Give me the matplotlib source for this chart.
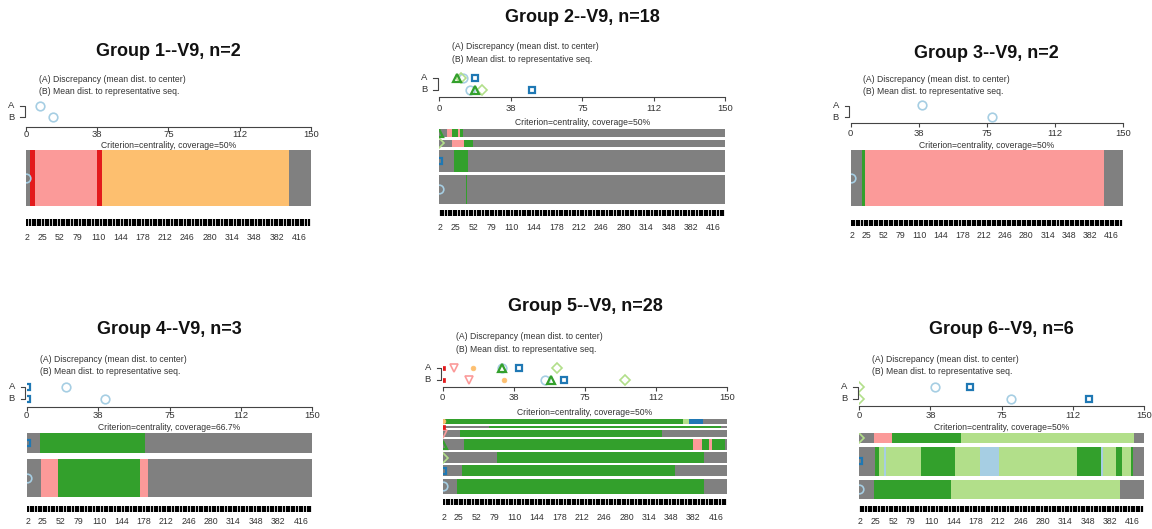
import matplotlib
matplotlib.use("Agg")
import matplotlib.pyplot as plt
from matplotlib.transforms import blended_transform_factory

plt.rcParams['font.family'] = ['Liberation Sans', 'DejaVu Sans']

# ---------------------------------------------------------------- data
SEQ_LEN = 433                     # number of time columns in each sequence
dist_ticks = [0, 37.5, 75, 112.5, 150]
dist_tick_labels = ["0", "38", "75", "112", "150"]
time_tick_values = [2, 25, 52, 79, 110, 144, 178, 212, 246, 280, 314, 348, 382, 416]

titles = ["Group 1--V9, n=2", "Group 2--V9, n=18", "Group 3--V9, n=2",
          "Group 4--V9, n=3", "Group 5--V9, n=28", "Group 6--V9, n=6"]
criteria = ["Criterion=centrality, coverage=50%", "Criterion=centrality, coverage=50%",
            "Criterion=centrality, coverage=50%", "Criterion=centrality, coverage=66.7%",
            "Criterion=centrality, coverage=50%", "Criterion=centrality, coverage=50%"]
legend_lines = ["(A) Discrepancy (mean dist. to center)",
                "(B) Mean dist. to representative seq."]

# representative sequences, listed bottom to top; each run is (state, end column)
g1_discrepancy = [7.4]
g1_mean_dist = [14.4]
g1_weights = [1]
g1_sequences = [[("NA", 6), ("R", 13), ("P", 108), ("R", 116), ("LO", 400), ("NA", 433)]]

g2_discrepancy = [12.5, 18.7, 11.5, 9.1]
g2_mean_dist = [16.1, 48.4, 22.2, 18.7]
g2_weights = [8, 6, 2, 2]
g2_sequences = [
    [("NA", 40), ("G", 42), ("NA", 433)],
    [("NA", 23), ("G", 43), ("NA", 433)],
    [("NA", 19), ("P", 37), ("G", 51), ("NA", 433)],
    [("NA", 11), ("P", 19), ("G", 28), ("P", 31), ("G", 36), ("NA", 433)],
]

g3_discrepancy = [39.2]
g3_mean_dist = [78.1]
g3_weights = [1]
g3_sequences = [[("NA", 18), ("G", 22), ("P", 403), ("NA", 433)]]

g4_discrepancy = [20.7, 0]
g4_mean_dist = [41.2, 0]
g4_weights = [2, 1]
g4_sequences = [
    [("NA", 21), ("P", 48), ("G", 172), ("P", 184), ("NA", 433)],
    [("NA", 20), ("G", 179), ("NA", 433)],
]

g5_discrepancy = [31.0, 40.4, 60.4, 31.1, 6.1, 0, 15.8]
g5_mean_dist = [53.9, 64.0, 96.0, 56.9, 13.9, 0, 32.2]
g5_weights = [7, 5, 5, 5, 3, 1, 2]
g5_sequences = [
    [("NA", 21), ("G", 397), ("NA", 433)],
    [("NA", 29), ("G", 353), ("NA", 433)],
    [("NA", 82), ("G", 398), ("NA", 433)],
    [("NA", 33), ("G", 381), ("P", 395), ("G", 405), ("P", 410), ("G", 430), ("NA", 433)],
    [("NA", 27), ("G", 334), ("NA", 433)],
    [("NA", 71), ("G", 423), ("NA", 433)],
    [("NA", 3), ("G", 365), ("LG", 375), ("DB", 396), ("NA", 433)],
]

g6_discrepancy = [39.9, 58.3, 0]
g6_mean_dist = [79.8, 121.2, 0]
g6_weights = [2, 3, 1]
g6_sequences = [
    [("NA", 22), ("G", 140), ("LG", 396), ("NA", 433)],
    [("NA", 24), ("G", 30), ("LG", 37), ("LB", 40), ("LG", 94), ("G", 145), ("LG", 183),
     ("LB", 213), ("LG", 331), ("G", 368), ("LB", 370), ("LG", 391), ("G", 400),
     ("LG", 413), ("G", 416), ("NA", 433)],
    [("NA", 23), ("P", 50), ("G", 155), ("LG", 418), ("NA", 433)],
]

# ---------------------------------------------------------------- styles
state_colors = {"LB": "#A6CEE3", "DB": "#1F78B4", "LG": "#B2DF8A", "G": "#33A02C",
                "P": "#FB9A99", "R": "#E31A1C", "LO": "#FDBF6F", "NA": "#808080"}
rep_styles = [  # (colour, marker, size, filled, edge width)
    ("#A6CEE3", "o", 6.2, False, 1.2),
    ("#1F78B4", "s", 4.6, False, 1.6),
    ("#B2DF8A", "D", 4.8, False, 1.2),
    ("#33A02C", "^", 5.4, False, 1.6),
    ("#FB9A99", "v", 5.4, False, 1.2),
    ("#E31A1C", "s", 3.4, True, 0.5),
    ("#FDBF6F", "o", 3.4, True, 0.5),
]
TEXT = "#333333"

W, H = 1152, 529
fig = plt.figure(figsize=(W / 100, H / 100), dpi=100)
fig.patch.set_facecolor("white")

over = fig.add_axes([0, 0, 1, 1])
over.set_xlim(0, W)
over.set_ylim(H, 0)
over.axis("off")
over.patch.set_alpha(0)


def rect(x0, y0, x1, y1):
    return [x0 / W, 1 - y1 / H, (x1 - x0) / W, (y1 - y0) / H]


layouts = [
    dict(x0=26.0, x1=310.7, title_y=51, leg_x=39.3, leg_y=(80, 91), a_y=106, b_y=117,
         axis_y=126.7, tl_y=134.5, crit_y=145, bar=(150, 205.7), gap=0,
         comb=(219.3, 225.7), lab_y=237),
    dict(x0=439.3, x1=725.3, title_y=17, leg_x=452.3, leg_y=(46.7, 59.3), a_y=78, b_y=90,
         axis_y=97.3, tl_y=108.5, crit_y=122.7, bar=(129.3, 204), gap=3,
         comb=(210, 216), lab_y=228),
    dict(x0=850.7, x1=1122.7, title_y=53.3, leg_x=863.3, leg_y=(80, 91), a_y=105.5, b_y=117,
         axis_y=123.3, tl_y=133.5, crit_y=145, bar=(150, 205.7), gap=0,
         comb=(220.3, 226.3), lab_y=235.5),
    dict(x0=26.7, x1=312.3, title_y=330, leg_x=40, leg_y=(360, 371), a_y=386.5, b_y=398.5,
         axis_y=406.7, tl_y=416, crit_y=427.7, bar=(433.3, 497.3), gap=6,
         comb=(506, 511.7), lab_y=522),
    dict(x0=442.7, x1=727.3, title_y=306.7, leg_x=456, leg_y=(336.7, 349.3), a_y=367.7, b_y=380,
         axis_y=387.3, tl_y=398, crit_y=412.7, bar=(419.3, 494), gap=2.2,
         comb=(499.3, 505), lab_y=517),
    dict(x0=859.3, x1=1144, title_y=330, leg_x=871.7, leg_y=(360, 371), a_y=386.5, b_y=398.5,
         axis_y=406, tl_y=415.5, crit_y=427.3, bar=(433, 499), gap=4,
         comb=(506, 511.7), lab_y=522),
]

groups = [
    (g1_discrepancy, g1_mean_dist, g1_weights, g1_sequences),
    (g2_discrepancy, g2_mean_dist, g2_weights, g2_sequences),
    (g3_discrepancy, g3_mean_dist, g3_weights, g3_sequences),
    (g4_discrepancy, g4_mean_dist, g4_weights, g4_sequences),
    (g5_discrepancy, g5_mean_dist, g5_weights, g5_sequences),
    (g6_discrepancy, g6_mean_dist, g6_weights, g6_sequences),
]


def draw_marker(ax, x, y, k):
    color, mk, ms, filled, mew = rep_styles[k]
    ax.plot([x], [y], marker=mk, markersize=ms, linestyle="none",
            markerfacecolor=color if filled else "none", markeredgecolor=color,
            markeredgewidth=mew, clip_on=True, zorder=5)


for title, crit, lay, (disc, mdist, weights, seqs) in zip(titles, criteria, layouts, groups):
    x0, x1 = lay["x0"], lay["x1"]
    xc = (x0 + x1) / 2

    over.text(xc, lay["title_y"], title, ha="center", va="center", fontsize=13,
              fontweight="bold", color="#111111")
    for line, ly in zip(legend_lines, lay["leg_y"]):
        over.text(lay["leg_x"], ly, line, ha="left", va="center", fontsize=6.2, color=TEXT)

    # A / B labels with bracket
    a_y, b_y = lay["a_y"], lay["b_y"]
    over.text(x0 - 15, a_y, "A", ha="center", va="center", fontsize=6.8, color=TEXT)
    over.text(x0 - 15, b_y, "B", ha="center", va="center", fontsize=6.8, color=TEXT)
    over.plot([x0 - 6, x0 - 1.3, x0 - 1.3, x0 - 6], [a_y, a_y, b_y, b_y],
              color="#444444", lw=0.8)

    # distance dot plot
    ax_d = fig.add_axes(rect(x0, a_y - 8, x1, lay["axis_y"]))
    ax_d.set_facecolor("none")
    ax_d.set_xlim(0, 150)
    ax_d.set_ylim(lay["axis_y"], a_y - 8)
    for s in ("top", "right", "left"):
        ax_d.spines[s].set_visible(False)
    ax_d.spines["bottom"].set_color("#444444")
    ax_d.spines["bottom"].set_linewidth(0.8)
    ax_d.set_yticks([])
    ax_d.set_xticks(dist_ticks)
    ax_d.set_xticklabels([])
    ax_d.tick_params(axis="x", direction="out", length=3, width=0.8, color="#444444")
    tr = blended_transform_factory(ax_d.transData, over.transData)
    for t, lab in zip(dist_ticks, dist_tick_labels):
        over.text(t, lay["tl_y"], lab, transform=tr, ha="center", va="center",
                  fontsize=6.8, color=TEXT)
    for k in range(len(disc)):
        draw_marker(ax_d, disc[k], a_y, k)
        draw_marker(ax_d, mdist[k], b_y, k)

    over.text(xc, lay["crit_y"], crit, ha="center", va="center", fontsize=6.2, color=TEXT)

    # representative sequences
    btop, bbot = lay["bar"]
    ax_s = fig.add_axes(rect(x0, btop, x1, bbot))
    ax_s.set_facecolor("none")
    ax_s.set_xlim(0, SEQ_LEN)
    ax_s.set_ylim(bbot, btop)
    ax_s.axis("off")
    gap = lay["gap"]
    unit = ((bbot - btop) - gap * (len(weights) - 1)) / sum(weights)
    y_low = bbot
    for k, (w, runs) in enumerate(zip(weights, seqs)):
        h = w * unit
        yc = y_low - h / 2
        start = 0
        for state, end in runs:
            ax_s.barh(yc, end - start, left=start, height=h, color=state_colors[state],
                      linewidth=0)
            start = end
        draw_marker(ax_s, 0, yc, k)
        y_low -= h + gap

    # time axis
    ctop, cbot = lay["comb"]
    ax_c = fig.add_axes(rect(x0, ctop, x1, cbot))
    ax_c.set_facecolor("none")
    ax_c.set_xlim(0, SEQ_LEN)
    ax_c.set_ylim(0, 1)
    ax_c.axis("off")
    ax_c.vlines(range(2, SEQ_LEN, 4), 0, 1, color="black", lw=1.6)
    trc = blended_transform_factory(ax_c.transData, over.transData)
    for v in time_tick_values:
        over.text(v - 0.5, lay["lab_y"], str(v), transform=trc, ha="center", va="center",
                  fontsize=6.3, color=TEXT)

fig.savefig("out.png", dpi=100, facecolor="white")
